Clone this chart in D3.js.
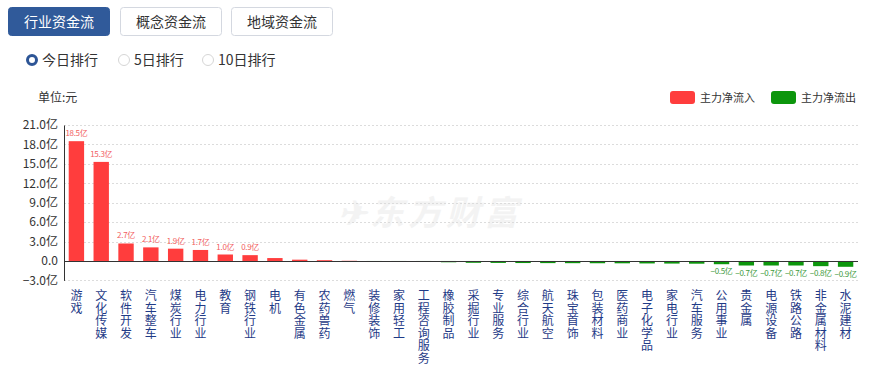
<!DOCTYPE html>
<html><head><meta charset="utf-8">
<script src="https://cdn.jsdelivr.net/npm/d3@7"></script>
<style>
body{margin:0;background:#fff;font-family:"Microsoft YaHei","Noto Sans CJK SC",sans-serif;}
svg text{font-family:"Noto Sans CJK SC",sans-serif;}
</style></head><body>
<svg id="c" width="884" height="366"></svg>
<script>
const categories=["游戏","文化传媒","软件开发","汽车整车","煤炭行业","电力行业","教育","钢铁行业","电机","有色金属","农药兽药","燃气","装修装饰","家用轻工","工程咨询服务","橡胶制品","采掘行业","专业服务","综合行业","航天航空","珠宝首饰","包装材料","医药商业","电子化学品","家电行业","汽车服务","公用事业","贵金属","电源设备","铁路公路","非金属材料","水泥建材"];
const values=[18.5,15.3,2.7,2.1,1.9,1.7,1.0,0.9,0.45,0.2,0.12,0.03,-0.04,-0.07,-0.12,-0.2,-0.28,-0.3,-0.32,-0.33,-0.34,-0.35,-0.36,-0.38,-0.4,-0.42,-0.5,-0.7,-0.7,-0.7,-0.8,-0.9];
const labeled=[0,1,2,3,4,5,6,7,26,27,28,29,30,31];
const yTicks=[-3,0,3,6,9,12,15,18,21];
const tabs=["行业资金流","概念资金流","地域资金流"];
const radios=["今日排行","5日排行","10日排行"];
const legendItems=[{name:"主力净流入",color:"#ff3d3d"},{name:"主力净流出",color:"#0c960c"}];

const svg=d3.select("#c");
// tabs
const tabX=[8,120,231];
tabs.forEach((t,i)=>{
  const g=svg.append("g");
  g.append("rect").attr("x",tabX[i]+0.5).attr("y",7.5).attr("width",101).attr("height",28).attr("rx",3)
   .attr("fill",i===0?"#305a9a":"#fff").attr("stroke",i===0?"#305a9a":"#d4d8e0");
  g.append("text").attr("x",tabX[i]+51).attr("y",26.5).attr("text-anchor","middle").attr("font-size",14)
   .attr("fill",i===0?"#fff":"#333").text(t);
});
// radios
const radX=[32,124,208];
radios.forEach((t,i)=>{
  if(i===0){
    svg.append("circle").attr("cx",radX[i]).attr("cy",60).attr("r",4.5).attr("fill","#fff").attr("stroke","#2d5596").attr("stroke-width",3);
  } else {
    svg.append("circle").attr("cx",radX[i]).attr("cy",60).attr("r",5.5).attr("fill","#fff").attr("stroke","#d6d6d6").attr("stroke-width",1);
  }
  svg.append("text").attr("x",radX[i]+10).attr("y",65).attr("font-size",14).attr("fill","#333").text(t);
});
svg.append("text").attr("x",38).attr("y",102).attr("font-size",12).attr("fill","#333").text("单位:元");
// legend
const legX=[670,771];
legendItems.forEach((d,i)=>{
  svg.append("rect").attr("x",legX[i]).attr("y",91).attr("width",25).attr("height",13).attr("rx",3).attr("fill",d.color);
  svg.append("text").attr("x",legX[i]+30).attr("y",102).attr("font-size",11).attr("fill","#333").text(d.name);
});
// watermark
svg.append("text").attr("x",430).attr("y",225).attr("text-anchor","middle").attr("font-size",34).attr("font-weight","bold")
  .attr("font-style","italic").attr("fill","#f3f3f3").attr("letter-spacing",4).text("✈东方财富");

const pLeft=64,pRight=858,pTop=125,pBottom=280.4;
const x=d3.scaleBand().domain(categories).range([pLeft,pRight]).paddingInner(0.38).paddingOuter(0.19);
const y=d3.scaleLinear().domain([-3,21]).range([pBottom,pTop]);

// grid
svg.append("g").selectAll("line").data(yTicks.filter(v=>v!==0)).join("line")
  .attr("x1",pLeft).attr("x2",pRight).attr("y1",d=>Math.round(y(d))+0.5).attr("y2",d=>Math.round(y(d))+0.5)
  .attr("stroke","#dcdcdc").attr("stroke-dasharray","2,2");
// y axis
const ya=svg.append("g").attr("transform",`translate(${pLeft},0)`).call(d3.axisLeft(y).tickValues(yTicks).tickSize(0).tickPadding(6).tickFormat(d=>d===0?"0.0":d3.format(".1f")(d)+"亿"));
ya.select(".domain").attr("stroke","#333");
ya.selectAll("text").attr("font-size",12).attr("fill","#333").attr("font-family","Noto Sans CJK SC, sans-serif");

// bars
svg.append("g").selectAll("rect").data(values).join("rect")
  .attr("x",(d,i)=>x(categories[i])).attr("width",x.bandwidth())
  .attr("y",d=>d>=0?y(d):y(0)).attr("height",d=>Math.max(0.8,Math.abs(y(d)-y(0))))
  .attr("fill",d=>d>=0?"#ff3d3d":"#0c960c");
// zero line
svg.append("line").attr("x1",pLeft).attr("x2",pRight).attr("y1",Math.round(y(0))+0.5).attr("y2",Math.round(y(0))+0.5).attr("stroke","#333");
// value labels
svg.append("g").selectAll("text").data(labeled).join("text")
  .attr("x",i=>x(categories[i])+x.bandwidth()/2)
  .attr("y",i=>values[i]>=0?y(values[i])-5:y(values[i])+10)
  .attr("text-anchor","middle").attr("font-size",8).attr("letter-spacing",-0.3)
  .attr("fill",i=>values[i]>=0?"#f26060":"#3c9a3c")
  .text(i=>d3.format(".1f")(values[i])+"亿");
// category labels vertical
const cl=svg.append("g");
categories.forEach((c,i)=>{
  const t=cl.append("text").attr("font-size",12).attr("fill","#1f3b87").attr("text-anchor","middle");
  [...c].forEach((ch,j)=>{
    t.append("tspan").attr("x",x(c)+x.bandwidth()/2).attr("y",300+j*12.6).text(ch);
  });
});
</script></body></html>
